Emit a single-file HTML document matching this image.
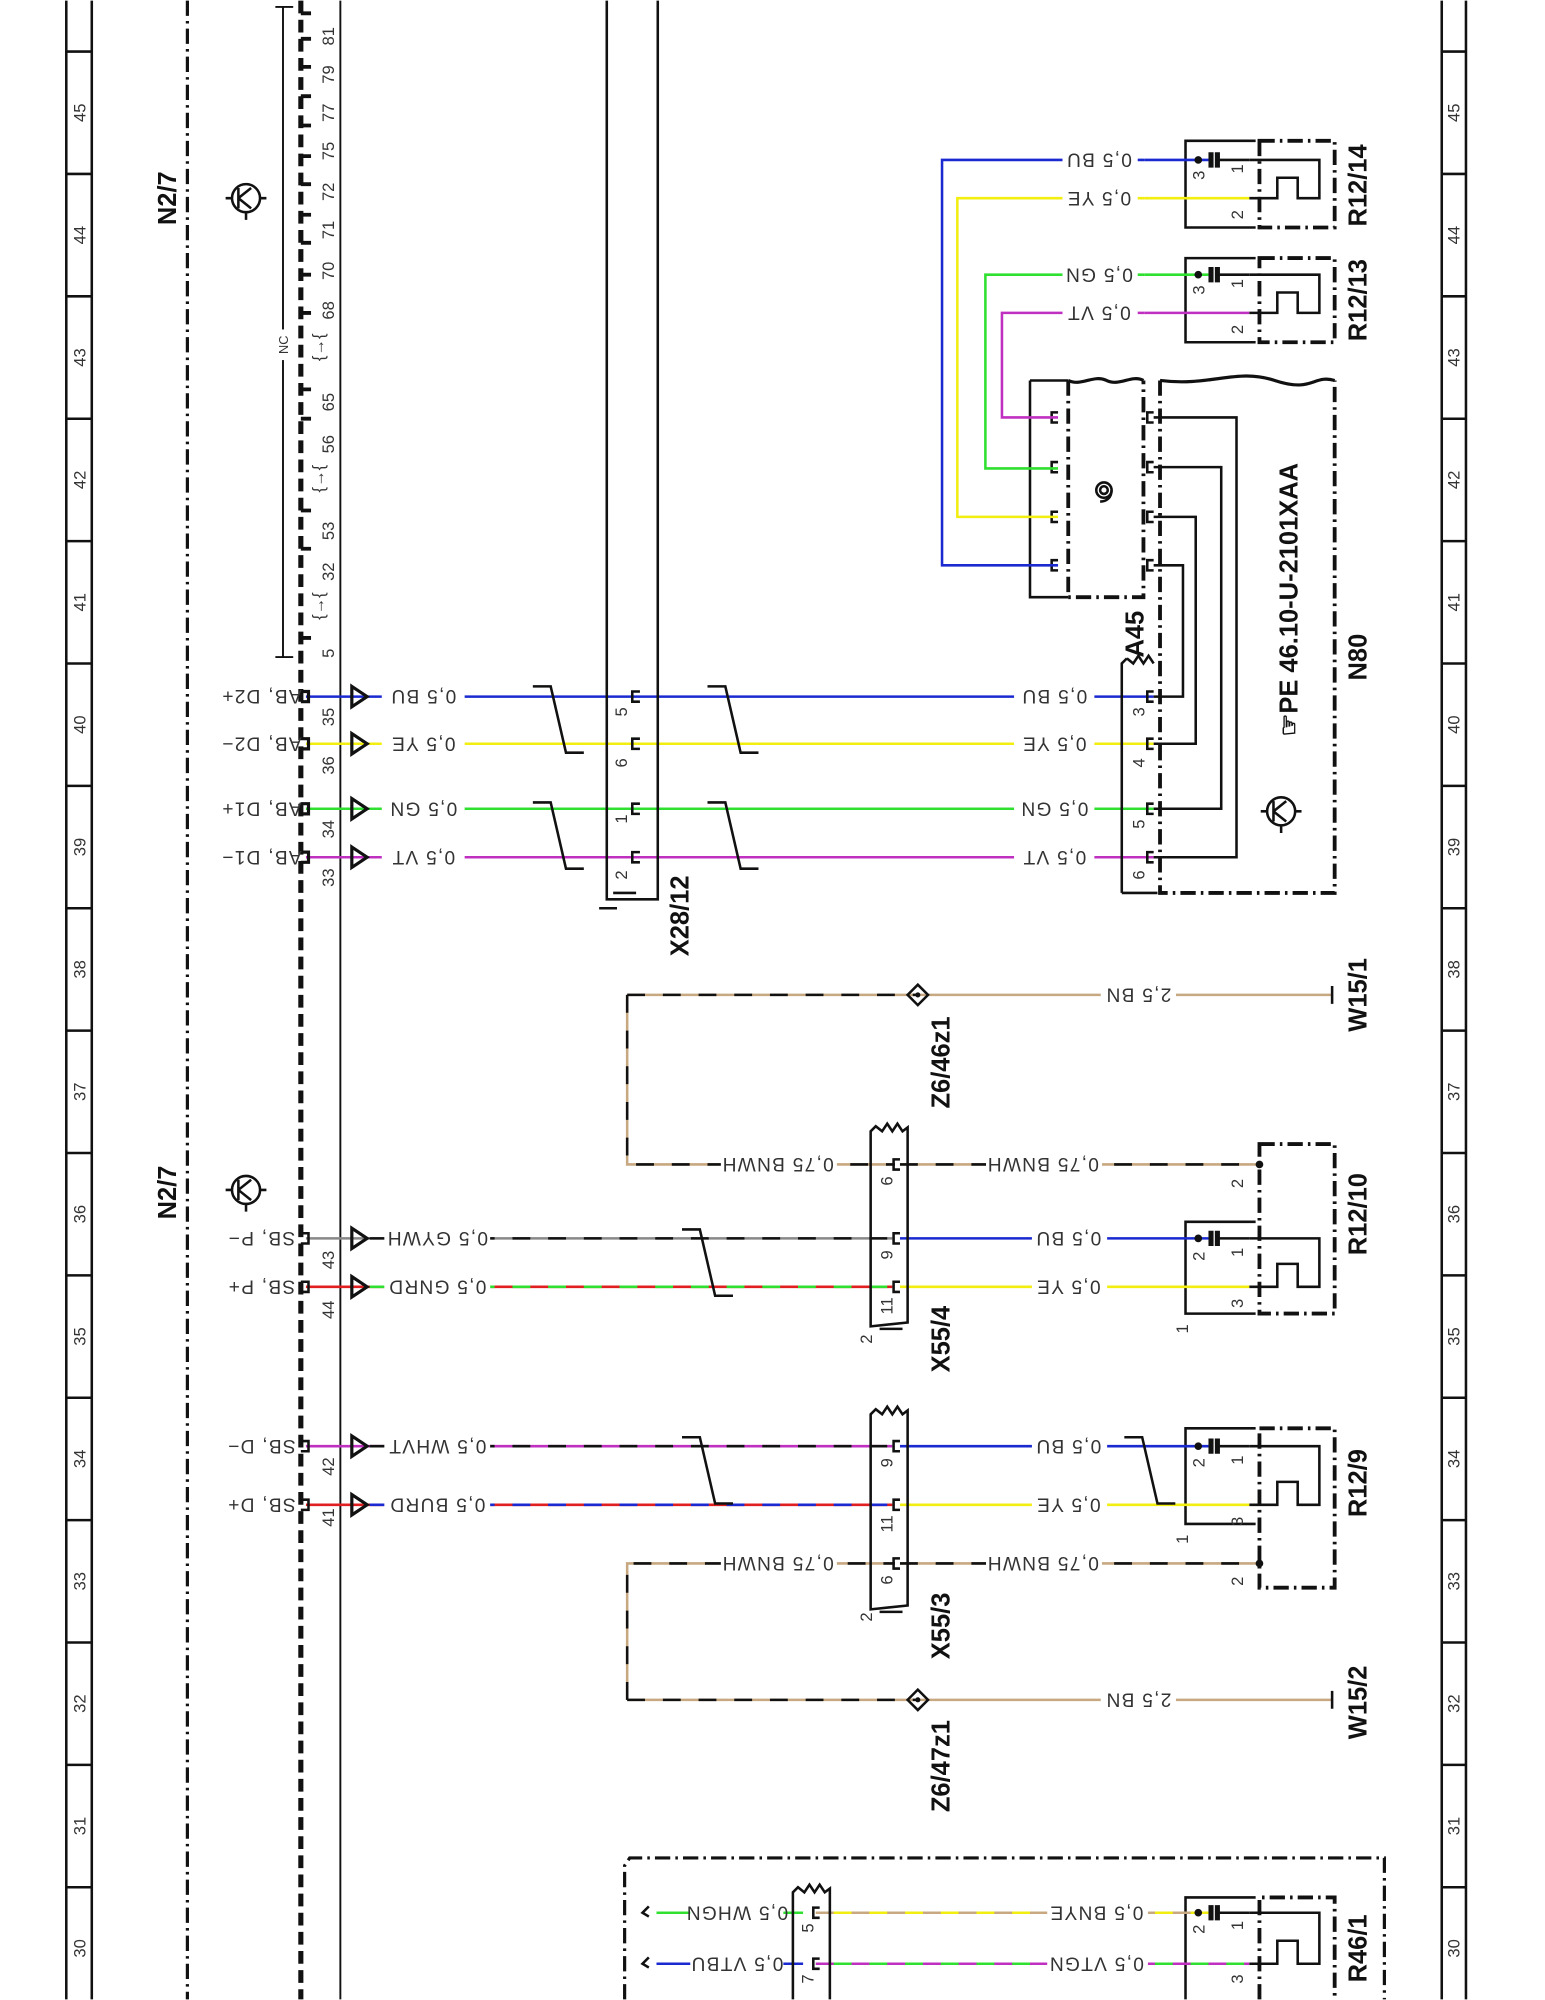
<!DOCTYPE html>
<html><head><meta charset="utf-8"><style>
html,body{margin:0;padding:0;background:#fff}
svg{display:block}
text{font-family:"Liberation Sans Narrow","Liberation Sans",sans-serif}
.n{font-size:13px;fill:#333}
.w{font-size:15px;fill:#333;letter-spacing:1px}
.b{font-size:20px;font-weight:bold;fill:#111}
</style></head><body>
<svg width="1545" height="2000" viewBox="0 0 1212 1568" xmlns="http://www.w3.org/2000/svg">
<rect width="1212" height="1568" fill="#fff"/>
<g stroke="#111" stroke-width="2" fill="none">
<line x1="52" y1="0" x2="52" y2="1568"/><line x1="72" y1="0" x2="72" y2="1568"/>
<line x1="1131" y1="0" x2="1131" y2="1568"/><line x1="1150" y1="0" x2="1150" y2="1568"/>
<path d="M52 40h20M52 136h20M52 232h20M52 328h20M52 424h20M52 520h20M52 616h20M52 712h20M52 808h20M52 904h20M52 1000h20M52 1096h20M52 1192h20M52 1288h20M52 1384h20M52 1480h20"/>
<path d="M1131 40h19M1131 136h19M1131 232h19M1131 328h19M1131 424h19M1131 520h19M1131 616h19M1131 712h19M1131 808h19M1131 904h19M1131 1000h19M1131 1096h19M1131 1192h19M1131 1288h19M1131 1384h19M1131 1480h19"/>
</g>
<g class="n" text-anchor="middle">
<text transform="translate(67,88) rotate(-90)">45</text><text transform="translate(67,184) rotate(-90)">44</text><text transform="translate(67,280) rotate(-90)">43</text><text transform="translate(67,376) rotate(-90)">42</text><text transform="translate(67,472) rotate(-90)">41</text><text transform="translate(67,568) rotate(-90)">40</text><text transform="translate(67,664) rotate(-90)">39</text><text transform="translate(67,760) rotate(-90)">38</text><text transform="translate(67,856) rotate(-90)">37</text><text transform="translate(67,952) rotate(-90)">36</text><text transform="translate(67,1048) rotate(-90)">35</text><text transform="translate(67,1144) rotate(-90)">34</text><text transform="translate(67,1240) rotate(-90)">33</text><text transform="translate(67,1336) rotate(-90)">32</text><text transform="translate(67,1432) rotate(-90)">31</text><text transform="translate(67,1528) rotate(-90)">30</text>
<text transform="translate(1145,88) rotate(-90)">45</text><text transform="translate(1145,184) rotate(-90)">44</text><text transform="translate(1145,280) rotate(-90)">43</text><text transform="translate(1145,376) rotate(-90)">42</text><text transform="translate(1145,472) rotate(-90)">41</text><text transform="translate(1145,568) rotate(-90)">40</text><text transform="translate(1145,664) rotate(-90)">39</text><text transform="translate(1145,760) rotate(-90)">38</text><text transform="translate(1145,856) rotate(-90)">37</text><text transform="translate(1145,952) rotate(-90)">36</text><text transform="translate(1145,1048) rotate(-90)">35</text><text transform="translate(1145,1144) rotate(-90)">34</text><text transform="translate(1145,1240) rotate(-90)">33</text><text transform="translate(1145,1336) rotate(-90)">32</text><text transform="translate(1145,1432) rotate(-90)">31</text><text transform="translate(1145,1528) rotate(-90)">30</text>
</g>
<line x1="147" y1="0" x2="147" y2="1568" stroke="#111" stroke-width="2.5" stroke-dasharray="12,4,2,4"/>
<line x1="236" y1="0" x2="236" y2="1568" stroke="#111" stroke-width="4" stroke-dasharray="10,5"/>
<line x1="267" y1="0" x2="267" y2="1568" stroke="#111" stroke-width="1.5"/>
<g class="b" text-anchor="middle">
<text transform="translate(138,155) rotate(-90)">N2/7</text>
<text transform="translate(138,935) rotate(-90)">N2/7</text>
</g>
<g stroke="#111" stroke-width="2" fill="none">
<circle cx="193" cy="155" r="11"/><path d="M182 155h-5M204 155h5M187 147v16M187 155l10-8M187 155l10 8M193 166v6"/>
<circle cx="193" cy="933" r="11"/><path d="M182 933h-5M204 933h5M187 925v16M187 933l10-8M187 933l10 8M193 944v6"/>
<path d="M222 5v510M216 5h14M216 515h14" stroke-width="1.5"/>
</g>
<rect x="218" y="258" width="9" height="24" fill="#fff"/>
<text transform="translate(226,270) rotate(-90)" class="n" text-anchor="middle" style="font-size:10px">NC</text>
<g stroke="#111" stroke-width="3">
<path d="M236 10h8M236 30h8M236 52h8M236 75h8M236 98h8M236 122h8M236 144h8M236 168h8M236 190h8M236 215h8M236 245h8M236 305h8M236 328h8M236 400h8M236 430h8M236 500h8"/>
</g>
<g class="n" text-anchor="middle">
<text transform="translate(262,28) rotate(-90)">81</text><text transform="translate(262,58) rotate(-90)">79</text><text transform="translate(262,88) rotate(-90)">77</text><text transform="translate(262,118) rotate(-90)">75</text><text transform="translate(262,150) rotate(-90)">72</text><text transform="translate(262,180) rotate(-90)">71</text><text transform="translate(262,212) rotate(-90)">70</text><text transform="translate(262,243) rotate(-90)">68</text><text transform="translate(262,315) rotate(-90)">65</text><text transform="translate(262,348) rotate(-90)">56</text><text transform="translate(262,416) rotate(-90)">53</text><text transform="translate(262,448) rotate(-90)">32</text><text transform="translate(262,512) rotate(-90)">5</text>
<text transform="translate(262,562) rotate(-90)">35</text><text transform="translate(262,600) rotate(-90)">36</text><text transform="translate(262,650) rotate(-90)">34</text><text transform="translate(262,688) rotate(-90)">33</text>
<text transform="translate(262,988) rotate(-90)">43</text><text transform="translate(262,1027) rotate(-90)">44</text><text transform="translate(262,1150) rotate(-90)">42</text><text transform="translate(262,1190) rotate(-90)">41</text>
<text transform="translate(254,272) rotate(-90)">{→{</text><text transform="translate(254,375) rotate(-90)">{→{</text><text transform="translate(254,475) rotate(-90)">{→{</text>
</g>
<g stroke-width="2" fill="none">
<line x1="240" y1="546" x2="905" y2="546" stroke="#1a2ad0"/>
<line x1="240" y1="583" x2="905" y2="583" stroke="#f2ee10"/>
<line x1="240" y1="634" x2="905" y2="634" stroke="#30e030"/>
<line x1="240" y1="672" x2="905" y2="672" stroke="#c030c0"/>
</g>
<g fill="#fff" stroke="#fff"><rect x="300" y="535" width="64" height="150"/><rect x="796" y="535" width="62" height="150"/></g>
<g fill="none" stroke="#111" stroke-width="2.5">
<path d="M276 538l12 8-12 8zM276 575l12 8-12 8zM276 626l12 8-12 8zM276 664l12 8-12 8z"/>
<path d="M236 542h6v8h-6M236 579h6v8h-6M236 630h6v8h-6M236 668h6v8h-6"/>
</g>
<g class="w" text-anchor="middle" transform="translate(0,-10)">
<text transform="translate(332,551) rotate(180)">0,5 BU</text><text transform="translate(332,588) rotate(180)">0,5 YE</text><text transform="translate(332,639) rotate(180)">0,5 GN</text><text transform="translate(332,677) rotate(180)">0,5 VT</text>
<text transform="translate(827,551) rotate(180)">0,5 BU</text><text transform="translate(827,588) rotate(180)">0,5 YE</text><text transform="translate(827,639) rotate(180)">0,5 GN</text><text transform="translate(827,677) rotate(180)">0,5 VT</text>
<text transform="translate(205,551) rotate(180)">AB, D2+</text><text transform="translate(205,588) rotate(180)">AB, D2−</text><text transform="translate(205,639) rotate(180)">AB, D1+</text><text transform="translate(205,677) rotate(180)">AB, D1−</text>
<text transform="translate(205,976) rotate(180)">SB, P−</text><text transform="translate(205,1014) rotate(180)">SB, P+</text><text transform="translate(205,1139) rotate(180)">SB, D−</text><text transform="translate(205,1185) rotate(180)">SB, D+</text>
</g>
<g stroke="#111" stroke-width="2" fill="none">
<path d="M476 0v705h40V0"/><path d="M481 700h18M470 712h14"/>
<path d="M502 542h-6v8h6M502 579h-6v8h6M502 630h-6v8h6M502 668h-6v8h6"/>
<path d="M418 538h14l12 52h14M418 629h14l12 52h14M555 538h14l12 52h14M555 629h14l12 52h14"/>
</g>
<g class="n" text-anchor="middle"><text transform="translate(492,558) rotate(-90)">5</text><text transform="translate(492,598) rotate(-90)">6</text><text transform="translate(492,642) rotate(-90)">1</text><text transform="translate(492,686) rotate(-90)">2</text></g>
<text transform="translate(540,718) rotate(-90)" class="b" text-anchor="middle">X28/12</text>
<g stroke="#111" stroke-width="2" fill="none">
<path d="M880 700V520l4-4M884 516l5 4 4-6 4 6 4-6 4 6"/><path d="M880 700h28"/>
<path d="M808 298h30M808 298v170h30"/>
<path d="M838 298c10 5 20-5 30 0s20-5 29 0" stroke-width="2.5"/>
<path d="M910 298c40 5 60-10 90 0s30-5 47 0" stroke-width="2.5"/>
<path d="M830 323h-5v8h5M830 362h-5v8h5M830 401h-5v8h5M830 439h-5v8h5"/>
<path d="M905 323h-5v8h5M905 362h-5v8h5M905 401h-5v8h5M905 439h-5v8h5M905 542h-5v8h5M905 579h-5v8h5M905 630h-5v8h5M905 668h-5v8h5"/>
<path d="M905 327h65v345h-65M905 366h53v268h-53M905 405h33v178h-33M905 443h23v103h-23"/>
</g>
<g stroke="#111" stroke-width="3" fill="none" stroke-dasharray="12,4,2,4">
<path d="M838 298v170h59V298"/>
<path d="M910 298v402h137V298"/>
</g>
<g stroke-width="2" fill="none">
<path d="M898 125H739v318h91" stroke="#1a2ad0"/>
<path d="M898 155H751v250h79" stroke="#f2ee10"/>
<path d="M898 215H773v152h57" stroke="#30e030"/>
<path d="M898 245H786v82h44" stroke="#c030c0"/>
</g>
<g fill="#fff" stroke="#fff"><rect x="834" y="115" width="58" height="150"/></g>
<g class="w" text-anchor="middle" transform="translate(0,-10)">
<text transform="translate(862,130) rotate(180)">0,5 BU</text><text transform="translate(862,160) rotate(180)">0,5 YE</text><text transform="translate(862,220) rotate(180)">0,5 GN</text><text transform="translate(862,250) rotate(180)">0,5 VT</text>
</g>
<g stroke="#111" stroke-width="2" fill="none"><circle cx="866" cy="384" r="6"/><circle cx="866" cy="384" r="3"/><path d="M872 384c0 6-4 9-9 9"/></g>
<g class="n" text-anchor="middle"><text transform="translate(898,558) rotate(-90)">3</text><text transform="translate(898,598) rotate(-90)">4</text><text transform="translate(898,646) rotate(-90)">5</text><text transform="translate(898,686) rotate(-90)">6</text></g>
<text transform="translate(897,497) rotate(-90)" class="b" text-anchor="middle">A45</text>
<text transform="translate(1018,470) rotate(-90)" class="b" text-anchor="middle">☞PE  46.10-U-2101XAA</text>
<text transform="translate(1072,515) rotate(-90)" class="b" text-anchor="middle">N80</text>
<g stroke="#111" stroke-width="2" fill="none"><circle cx="1005" cy="636" r="11"/><path d="M994 636h-5M1016 636h5M999 628v16M999 636l10-8M999 636l10 8M1005 647v6"/></g>
<g stroke="#111" stroke-width="2" fill="none">
<path d="M985 110h-55v68h55"/><path d="M985 202h-55v66h55"/>
<path d="M985 958h-55v72h55"/><path d="M985 1120h-55v75h55"/><path d="M985 1488h-55v80"/>
<path d="M980 125h55v30h-17v-16h-16v16h-22M980 215h55v30h-17v-16h-16v16h-22"/>
<path d="M980 971h55v38h-17v-18h-16v18h-22M980 1134h55v46h-17v-18h-16v18h-22M980 1500h55v40h-17v-18h-16v18h-22"/>
<path d="M950 119v12M955 119v12M950 209v12M955 209v12M950 965v12M955 965v12M950 1128v12M955 1128v12M950 1494v12M955 1494v12" stroke-width="4"/>
</g>
<g stroke="#111" stroke-width="3" fill="none" stroke-dasharray="12,4,2,4">
<rect x="988" y="110" width="59" height="68"/><rect x="988" y="202" width="59" height="66"/>
<rect x="988" y="897" width="59" height="133"/><rect x="988" y="1120" width="59" height="125"/>
<path d="M988 1568v-80h59v80"/>
</g>
<g class="b" text-anchor="middle"><text transform="translate(1072,145) rotate(-90)">R12/14</text><text transform="translate(1072,235) rotate(-90)">R12/13</text><text transform="translate(1072,952) rotate(-90)">R12/10</text><text transform="translate(1072,1163) rotate(-90)">R12/9</text><text transform="translate(1072,1528) rotate(-90)">R46/1</text><text transform="translate(1072,780) rotate(-90)">W15/1</text><text transform="translate(1072,1335) rotate(-90)">W15/2</text>
<text transform="translate(745,833) rotate(-90)">Z6/46z1</text><text transform="translate(745,1385) rotate(-90)">Z6/47z1</text><text transform="translate(745,1050) rotate(-90)">X55/4</text><text transform="translate(745,1275) rotate(-90)">X55/3</text></g>
<g class="n" text-anchor="middle">
<text transform="translate(945,137) rotate(-90)">3</text><text transform="translate(975,132) rotate(-90)">1</text><text transform="translate(975,168) rotate(-90)">2</text>
<text transform="translate(945,227) rotate(-90)">3</text><text transform="translate(975,222) rotate(-90)">1</text><text transform="translate(975,258) rotate(-90)">2</text>
<text transform="translate(975,928) rotate(-90)">2</text><text transform="translate(945,985) rotate(-90)">2</text><text transform="translate(975,982) rotate(-90)">1</text><text transform="translate(975,1022) rotate(-90)">3</text><text transform="translate(932,1042) rotate(-90)">1</text>
<text transform="translate(945,1147) rotate(-90)">2</text><text transform="translate(975,1145) rotate(-90)">1</text><text transform="translate(975,1193) rotate(-90)">3</text><text transform="translate(975,1240) rotate(-90)">2</text><text transform="translate(932,1207) rotate(-90)">1</text>
<text transform="translate(945,1513) rotate(-90)">2</text><text transform="translate(975,1510) rotate(-90)">1</text><text transform="translate(975,1552) rotate(-90)">3</text>
<text transform="translate(700,926) rotate(-90)">6</text><text transform="translate(700,984) rotate(-90)">9</text><text transform="translate(700,1024) rotate(-90)">11</text><text transform="translate(684,1050) rotate(-90)">2</text>
<text transform="translate(700,1147) rotate(-90)">9</text><text transform="translate(700,1195) rotate(-90)">11</text><text transform="translate(700,1239) rotate(-90)">6</text><text transform="translate(684,1268) rotate(-90)">2</text>
<text transform="translate(638,1512) rotate(-90)">5</text><text transform="translate(638,1552) rotate(-90)">7</text>
</g>
<g stroke-width="2" fill="none">
<line x1="706" y1="971" x2="948" y2="971" stroke="#1a2ad0"/><line x1="706" y1="1009" x2="980" y2="1009" stroke="#f2ee10"/>
<line x1="706" y1="1134" x2="948" y2="1134" stroke="#1a2ad0"/><line x1="706" y1="1180" x2="980" y2="1180" stroke="#f2ee10"/>
<line x1="956" y1="971" x2="980" y2="971" stroke="#111"/><line x1="956" y1="1134" x2="980" y2="1134" stroke="#111"/>
<line x1="898" y1="125" x2="948" y2="125" stroke="#1a2ad0"/><line x1="956" y1="125" x2="980" y2="125" stroke="#111"/><line x1="898" y1="155" x2="980" y2="155" stroke="#f2ee10"/>
<line x1="898" y1="215" x2="948" y2="215" stroke="#30e030"/><line x1="956" y1="215" x2="980" y2="215" stroke="#111"/><line x1="898" y1="245" x2="980" y2="245" stroke="#c030c0"/>
<path d="M492 780h228M492 780v133h210M492 1333h228M492 1333v-107h210M706 913h282M706 1226h282" stroke="#c8a880"/>
<path d="M492 780h228M492 780v133h210M492 1333h228M492 1333v-107h210M706 913h282M706 1226h282" stroke="#111" stroke-dasharray="14,14"/>
<line x1="720" y1="780" x2="1045" y2="780" stroke="#c8a880"/><line x1="720" y1="1333" x2="1045" y2="1333" stroke="#c8a880"/>
<line x1="240" y1="971" x2="700" y2="971" stroke="#888"/><line x1="290" y1="971" x2="700" y2="971" stroke="#111" stroke-dasharray="14,14"/>
<line x1="240" y1="1009" x2="700" y2="1009" stroke="#e02020"/><line x1="290" y1="1009" x2="700" y2="1009" stroke="#30e030" stroke-dasharray="14,14"/>
<line x1="240" y1="1134" x2="700" y2="1134" stroke="#c030c0"/><line x1="290" y1="1134" x2="700" y2="1134" stroke="#111" stroke-dasharray="14,14"/>
<line x1="240" y1="1180" x2="700" y2="1180" stroke="#e02020"/><line x1="290" y1="1180" x2="700" y2="1180" stroke="#1a2ad0" stroke-dasharray="14,14"/>
<line x1="640" y1="1500" x2="948" y2="1500" stroke="#f2ee10"/><line x1="640" y1="1500" x2="948" y2="1500" stroke="#c8a880" stroke-dasharray="14,14"/>
<line x1="640" y1="1540" x2="980" y2="1540" stroke="#30e030"/><line x1="640" y1="1540" x2="980" y2="1540" stroke="#c030c0" stroke-dasharray="14,14"/>
<line x1="956" y1="1500" x2="980" y2="1500" stroke="#111"/>
<line x1="515" y1="1500" x2="630" y2="1500" stroke="#30e030"/><line x1="515" y1="1540" x2="630" y2="1540" stroke="#1a2ad0"/>
</g>
<g fill="#fff" stroke="#fff">
<rect x="566" y="903" width="90" height="20"/><rect x="774" y="903" width="90" height="20"/>
<rect x="302" y="961" width="82" height="58"/><rect x="302" y="1124" width="82" height="66"/>
<rect x="810" y="961" width="58" height="58"/><rect x="810" y="1124" width="58" height="66"/><rect x="774" y="1216" width="90" height="20"/><rect x="566" y="1216" width="90" height="20"/>
<rect x="864" y="770" width="58" height="20"/><rect x="864" y="1323" width="58" height="20"/>
<rect x="822" y="1490" width="78" height="60"/><rect x="542" y="1490" width="72" height="60"/>
</g>
<g class="w" text-anchor="middle" transform="translate(0,-10)">
<text transform="translate(610,918) rotate(180)">0,75 BNWH</text><text transform="translate(818,918) rotate(180)">0,75 BNWH</text>
<text transform="translate(610,1231) rotate(180)">0,75 BNWH</text><text transform="translate(818,1231) rotate(180)">0,75 BNWH</text>
<text transform="translate(343,976) rotate(180)">0,5 GYWH</text><text transform="translate(343,1014) rotate(180)">0,5 GNRD</text>
<text transform="translate(343,1139) rotate(180)">0,5 WHVT</text><text transform="translate(343,1185) rotate(180)">0,5 BURD</text>
<text transform="translate(838,976) rotate(180)">0,5 BU</text><text transform="translate(838,1014) rotate(180)">0,5 YE</text>
<text transform="translate(838,1139) rotate(180)">0,5 BU</text><text transform="translate(838,1185) rotate(180)">0,5 YE</text>
<text transform="translate(893,785) rotate(180)">2,5 BN</text><text transform="translate(893,1338) rotate(180)">2,5 BN</text>
<text transform="translate(860,1505) rotate(180)">0,5 BNYE</text><text transform="translate(860,1545) rotate(180)">0,5 VTGN</text>
<text transform="translate(578,1505) rotate(180)">0,5 WHGN</text><text transform="translate(578,1545) rotate(180)">0,5 VTBU</text>
</g>
<g stroke="#111" stroke-width="2" fill="none">
<path d="M236 967h6v8h-6M236 1005h6v8h-6M236 1130h6v8h-6M236 1176h6v8h-6"/>
<path d="M276 963l12 8-12 8zM276 1001l12 8-12 8zM276 1126l12 8-12 8zM276 1172l12 8-12 8z" stroke-width="2.5"/>
<path d="M683 1040V887l4-4 5 4 4-6 4 6 4-6 4 6 4-3v153zM690 1042h18"/>
<path d="M683 1262V1109l4-4 5 4 4-6 4 6 4-6 4 6 4-3v153zM690 1264h18"/>
<path d="M706 909h-5v8h5M706 967h-5v8h5M706 1005h-5v8h5M706 1130h-5v8h5M706 1176h-5v8h5M706 1222h-5v8h5"/>
<path d="M535 964h14l12 52h14M535 1127h14l12 52h14M882 1127h14l12 52h14"/>
<path d="M712 780l8-8 8 8-8 8zM712 1333l8-8 8 8-8 8z"/>
<path d="M1045 773v14M1045 1326v14"/>
<path d="M622 1568V1484l4-4 5 4 4-6 4 6 4-6 4 6 4-3V1568"/>
<path d="M643 1496h-5v8h5M643 1536h-5v8h5"/>
<path d="M509 1495l-5 5 5 3M509 1535l-5 5 5 3"/>
</g>
<g fill="#111"><circle cx="988" cy="913" r="3"/><circle cx="988" cy="1226" r="3"/><circle cx="940" cy="125" r="3"/><circle cx="940" cy="215" r="3"/><circle cx="940" cy="971" r="3"/><circle cx="940" cy="1134" r="3"/><circle cx="940" cy="1500" r="3"/><circle cx="720" cy="780" r="2"/><circle cx="720" cy="1333" r="2"/></g>
<path d="M490 1568v-105l4-6h592v111" stroke="#111" stroke-width="2.5" fill="none" stroke-dasharray="12,4,2,4"/>
</svg>
</body></html>
